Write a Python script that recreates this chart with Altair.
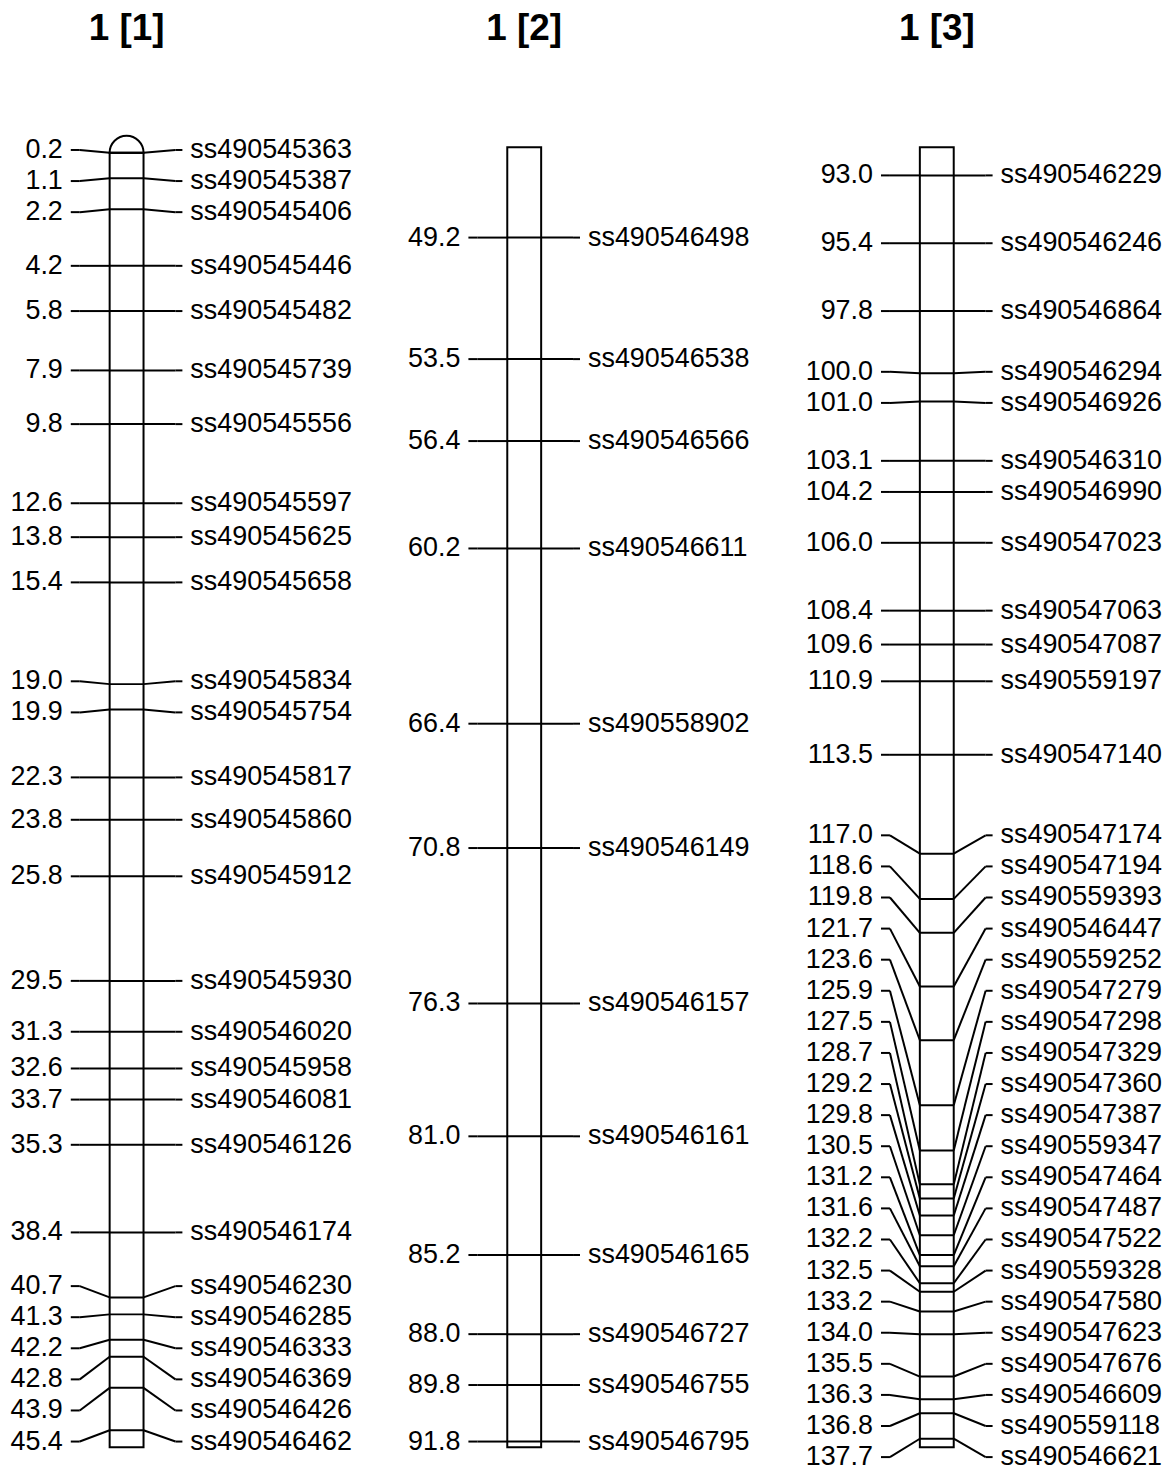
import math
import altair as alt
import pandas as pd

# ---------------- data ----------------
TITLES = ["1 [1]", "1 [2]", "1 [3]"]

POS_1 = [0.2, 1.1, 2.2, 4.2, 5.8, 7.9, 9.8, 12.6, 13.8, 15.4, 19.0, 19.9, 22.3, 23.8,
         25.8, 29.5, 31.3, 32.6, 33.7, 35.3, 38.4, 40.7, 41.3, 42.2, 42.8, 43.9, 45.4]
NAMES_1 = ["ss490545363", "ss490545387", "ss490545406", "ss490545446", "ss490545482",
           "ss490545739", "ss490545556", "ss490545597", "ss490545625", "ss490545658",
           "ss490545834", "ss490545754", "ss490545817", "ss490545860", "ss490545912",
           "ss490545930", "ss490546020", "ss490545958", "ss490546081", "ss490546126",
           "ss490546174", "ss490546230", "ss490546285", "ss490546333", "ss490546369",
           "ss490546426", "ss490546462"]

POS_2 = [49.2, 53.5, 56.4, 60.2, 66.4, 70.8, 76.3, 81.0, 85.2, 88.0, 89.8, 91.8]
NAMES_2 = ["ss490546498", "ss490546538", "ss490546566", "ss490546611", "ss490558902",
           "ss490546149", "ss490546157", "ss490546161", "ss490546165", "ss490546727",
           "ss490546755", "ss490546795"]

POS_3 = [93.0, 95.4, 97.8, 100.0, 101.0, 103.1, 104.2, 106.0, 108.4, 109.6, 110.9, 113.5,
         117.0, 118.6, 119.8, 121.7, 123.6, 125.9, 127.5, 128.7, 129.2, 129.8, 130.5,
         131.2, 131.6, 132.2, 132.5, 133.2, 134.0, 135.5, 136.3, 136.8, 137.7]
NAMES_3 = ["ss490546229", "ss490546246", "ss490546864", "ss490546294", "ss490546926",
           "ss490546310", "ss490546990", "ss490547023", "ss490547063", "ss490547087",
           "ss490559197", "ss490547140", "ss490547174", "ss490547194", "ss490559393",
           "ss490546447", "ss490559252", "ss490547279", "ss490547298", "ss490547329",
           "ss490547360", "ss490547387", "ss490559347", "ss490547464", "ss490547487",
           "ss490547522", "ss490559328", "ss490547580", "ss490547623", "ss490547676",
           "ss490546609", "ss490559118", "ss490546621"]

# chromosome segment shown in each panel (cM)
SEG_START = [0.0, 46.0, 92.0]
SEG_TOP = [0.2, 46.0, 92.0]
SEG_END = [46.0, 92.0, 138.0]

POSITIONS = [POS_1, POS_2, POS_3]
NAMES = [NAMES_1, NAMES_2, NAMES_3]

# ---------------- layout ----------------
FONT = "Liberation Sans"
FS = 27
LW = 2
CHROM_LEFT = [102, 501, 915]   # px inside the plot
CHROM_W = 34
W, H = 1160, 1464
Y_DOMAIN = [-4.834, 46.788]    # panel-relative cM shown top..bottom
LABEL_GAP = 1.1                # minimum label spacing in cM


def spread_labels(pos, gap=LABEL_GAP):
    """Group overlapping labels; each group is evenly spaced and centred
    on the midpoint of its first and last marker."""
    groups = [[i] for i in range(len(pos))]

    def place(g):
        c = (pos[g[0]] + pos[g[-1]]) / 2.0
        n = len(g)
        return [c + (j - (n - 1) / 2.0) * gap for j in range(n)]

    changed = True
    while changed:
        changed = False
        for a in range(len(groups) - 1):
            la = place(groups[a])
            lb = place(groups[a + 1])
            if lb[0] - la[-1] < gap - 1e-9:
                groups[a] = groups[a] + groups[a + 1]
                del groups[a + 1]
                changed = True
                break
    out = []
    for g in groups:
        out.extend(place(g))
    return out


yscale = alt.Scale(domain=Y_DOMAIN, reverse=True, nice=False, zero=False)
layers = []

for k in range(3):
    pos = POSITIONS[k]
    names = NAMES[k]
    labs = spread_labels(pos)
    off = SEG_START[k]
    df = pd.DataFrame({
        "rel": [p - off for p in pos],
        "lab": [l - off for l in labs],
        "txt": [f"{p:.1f}" for p in pos],
        "name": names,
    })
    cl = CHROM_LEFT[k]
    cr = cl + CHROM_W
    cx = cl + CHROM_W / 2

    seg = pd.DataFrame({"top": [SEG_TOP[k] - off], "bot": [SEG_END[k] - off]})
    layers.append(
        alt.Chart(seg).mark_rect(fill="white", stroke="black", strokeWidth=LW).encode(
            y=alt.Y("top:Q", scale=yscale, axis=None),
            y2="bot:Q",
            x=alt.value(cl), x2=alt.value(cr),
        )
    )
    if k == 0:
        cap = pd.DataFrame({"top": [SEG_TOP[k] - off]})
        layers.append(
            alt.Chart(cap).mark_arc(
                radius=CHROM_W / 2, theta=1.5 * math.pi, theta2=2.5 * math.pi,
                fill="white", stroke="black", strokeWidth=LW,
            ).encode(
                y=alt.Y("top:Q", scale=yscale, axis=None),
                x=alt.value(cx),
            )
        )

    base = alt.Chart(df)
    # marker lines across the chromosome
    layers.append(base.mark_rule(color="black", strokeWidth=LW).encode(
        y=alt.Y("rel:Q", scale=yscale, axis=None), x=alt.value(cl), x2=alt.value(cr)))
    # left connectors
    layers.append(base.mark_rule(color="black", strokeWidth=LW).encode(
        y=alt.Y("lab:Q", scale=yscale, axis=None), x=alt.value(cl - 39), x2=alt.value(cl - 30)))
    layers.append(base.mark_rule(color="black", strokeWidth=LW).encode(
        y=alt.Y("lab:Q", scale=yscale, axis=None), y2="rel:Q",
        x=alt.value(cl - 30), x2=alt.value(cl)))
    # right connectors
    layers.append(base.mark_rule(color="black", strokeWidth=LW).encode(
        y=alt.Y("rel:Q", scale=yscale, axis=None), y2="lab:Q",
        x=alt.value(cr), x2=alt.value(cr + 32)))
    layers.append(base.mark_rule(color="black", strokeWidth=LW).encode(
        y=alt.Y("lab:Q", scale=yscale, axis=None), x=alt.value(cr + 32), x2=alt.value(cr + 39)))
    # texts
    layers.append(base.mark_text(align="right", baseline="middle", font=FONT,
                                 fontSize=FS, color="black").encode(
        y=alt.Y("lab:Q", scale=yscale, axis=None), x=alt.value(cl - 47), text="txt:N"))
    layers.append(base.mark_text(align="left", baseline="middle", font=FONT,
                                 fontSize=FS, color="black").encode(
        y=alt.Y("lab:Q", scale=yscale, axis=None), x=alt.value(cr + 47), text="name:N"))
    # panel title
    tdf = pd.DataFrame({"t": [TITLES[k]]})
    layers.append(alt.Chart(tdf).mark_text(align="center", baseline="middle", font=FONT,
                                           fontSize=37, fontWeight="bold", color="black").encode(
        x=alt.value(cx), y=alt.value(19), text="t:N"))

chart = alt.layer(*layers).properties(
    width=W, height=H, padding=0,
    autosize=alt.AutoSizeParams(type="none"),
).configure_view(stroke=None)

chart.save("out.html", embed_options={"renderer": "svg", "actions": False})
